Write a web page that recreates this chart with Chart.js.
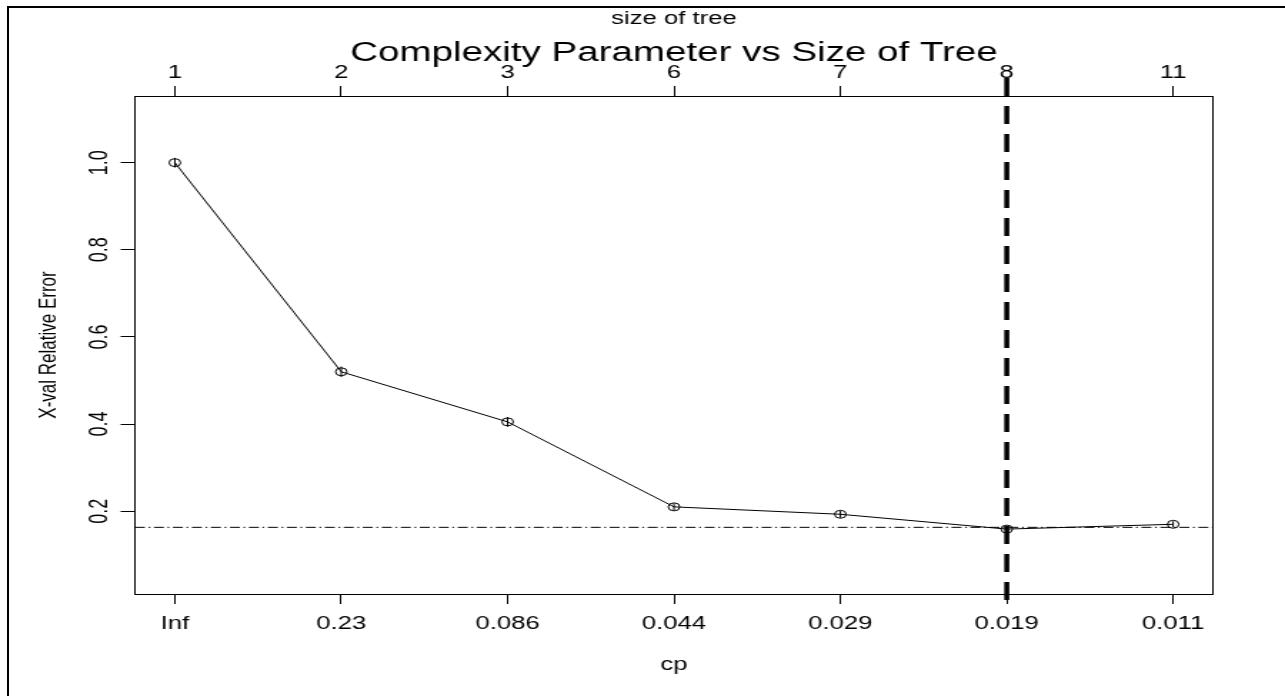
<!DOCTYPE html>
<html>
<head>
<meta charset="utf-8">
<script src="https://cdn.jsdelivr.net/npm/chart.js@4.4.1/dist/chart.umd.min.js"></script>
<style>
  html, body { margin: 0; padding: 0; background: #fff; overflow: hidden; }
  /* the R picture was stretched sideways, so draw narrow and stretch */
  #wrap { position: absolute; left: 0; top: 0; width: 900px; height: 696px; transform: scaleX(1.4278); transform-origin: 0 0; }
  #frame { position: absolute; left: 7px; top: 6px; width: 1300px; height: 720px; border-left: 2px solid #000; border-top: 2px solid #000; pointer-events: none; }
</style>
</head>
<body>
<div id="wrap"><canvas id="chartCp" width="900" height="696"></canvas></div>
<div id="frame"></div>
<script>
const sizeLabels = ['1', '2', '3', '6', '7', '8', '11'];
const cpLabels = ['Inf', '0.23', '0.086', '0.044', '0.029', '0.019', '0.011'];
const xerror = [1.0, 0.52, 0.405, 0.21, 0.193, 0.159, 0.17];
const xstd = [0.011, 0.012, 0.011, 0.008, 0.008, 0.007, 0.007];
const yTicks = [0.2, 0.4, 0.6, 0.8, 1.0];
const minLine = 0.163;   // min xerror + 1 se
const bestSize = '8';

const FONT = "'Liberation Sans', Arial, Helvetica, sans-serif";
Chart.defaults.font.family = FONT;
Chart.defaults.color = '#000';

const points = xerror.map((v, i) => ({ x: i + 1, y: v }));
const xMin = 0.76, xMax = 7.24;
const yMin = 0.01, yMax = 1.153;

const cpMarks = {
  id: 'cpMarks',
  afterDatasetsDraw(chart) {
    const { ctx, chartArea: a, scales: { x, y } } = chart;
    ctx.save();
    ctx.strokeStyle = '#000';
    ctx.lineWidth = 1;
    // error bars
    xerror.forEach((v, i) => {
      const px = x.getPixelForValue(i + 1);
      ctx.beginPath();
      ctx.moveTo(px, y.getPixelForValue(v - xstd[i]));
      ctx.lineTo(px, y.getPixelForValue(v + xstd[i]));
      ctx.stroke();
    });
    // dot-dash reference line
    const hy = y.getPixelForValue(minLine);
    ctx.setLineDash([7, 2.5, 1.3, 2.5]);
    ctx.beginPath(); ctx.moveTo(a.left, hy); ctx.lineTo(a.right, hy); ctx.stroke();
    // chosen tree size
    const vx = x.getPixelForValue(sizeLabels.indexOf(bestSize) + 1);
    ctx.lineWidth = 3.5;
    ctx.setLineDash([18, 10]);
    ctx.beginPath(); ctx.moveTo(vx, a.top - 18); ctx.lineTo(vx, a.bottom + 8); ctx.stroke();
    ctx.restore();
  },
  afterDraw(chart) {
    const { ctx, chartArea: a } = chart;
    ctx.save();
    ctx.font = '27px ' + FONT;
    ctx.fillStyle = '#000';
    ctx.textAlign = 'center';
    ctx.textBaseline = 'alphabetic';
    ctx.fillText('Complexity Parameter vs Size of Tree', (a.left + a.right) / 2, 61);
    ctx.restore();
  }
};

const tickGrid = { drawOnChartArea: false, tickLength: 10, color: '#000', lineWidth: 1 };
const axisBorder = { color: '#000', width: 1 };

new Chart(document.getElementById('chartCp'), {
  type: 'line',
  data: {
    datasets: [{
      data: points, borderColor: '#000', borderWidth: 1, tension: 0, fill: false,
      pointRadius: 4, pointBorderWidth: 1, pointBorderColor: '#000', pointBackgroundColor: 'rgba(0,0,0,0)'
    }]
  },
  options: {
    responsive: false, animation: false, devicePixelRatio: 1,
    layout: { padding: { left: 0, top: 0, right: 50.4, bottom: 0 } },
    plugins: { legend: { display: false }, tooltip: { enabled: false } },
    scales: {
      x: {
        type: 'linear', position: 'bottom', min: xMin, max: xMax,
        afterBuildTicks: s => { s.ticks = cpLabels.map((_, i) => ({ value: i + 1 })); },
        afterFit: s => { s.height = 102; },
        ticks: { autoSkip: false, maxRotation: 0, padding: 9, font: { size: 18 }, callback: v => cpLabels[Math.round(v) - 1] },
        grid: tickGrid, border: axisBorder,
        title: { display: true, text: 'cp', font: { size: 18 }, padding: { top: 0, bottom: 20 } }
      },
      x2: {
        type: 'linear', position: 'top', min: xMin, max: xMax,
        afterBuildTicks: s => { s.ticks = sizeLabels.map((_, i) => ({ value: i + 1 })); },
        afterFit: s => { s.height = 96; },
        ticks: { autoSkip: false, maxRotation: 0, padding: 2, font: { size: 18 }, callback: v => sizeLabels[Math.round(v) - 1] },
        grid: tickGrid, border: axisBorder,
        title: { display: true, text: 'size of tree', font: { size: 18 }, padding: { top: 8, bottom: 0 } }
      },
      y: {
        type: 'linear', position: 'left', min: yMin, max: yMax,
        afterBuildTicks: s => { s.ticks = yTicks.map(v => ({ value: v })); },
        afterFit: s => { s.width = 94.5; },
        ticks: { minRotation: 90, maxRotation: 90, crossAlign: 'center', padding: 2, font: { size: 18 }, callback: v => v.toFixed(1) },
        grid: tickGrid, border: axisBorder,
        title: { display: true, text: 'X-val Relative Error', font: { size: 17 }, padding: { top: 24, bottom: 0 } }
      },
      y2: {
        type: 'linear', position: 'right', min: yMin, max: yMax,
        afterFit: s => { s.width = 0; },
        ticks: { display: false },
        grid: { drawOnChartArea: false, drawTicks: false },
        border: axisBorder
      }
    }
  },
  plugins: [cpMarks]
});
</script>
</body>
</html>
